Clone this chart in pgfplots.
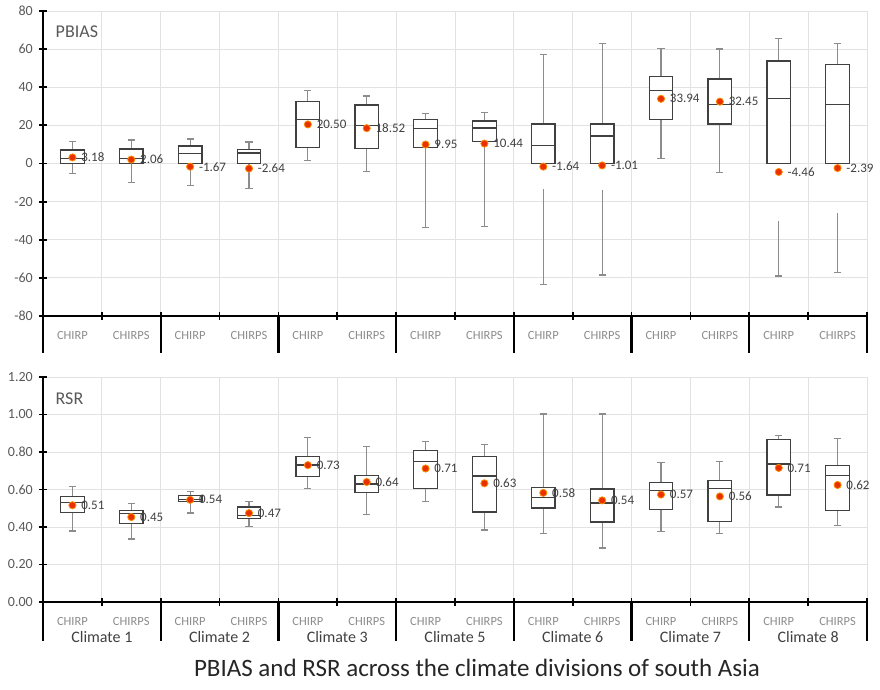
\documentclass[border=0pt]{standalone}
\usepackage{fontspec}
\setmainfont{Carlito}
\usepackage{pgfplots}
\usepackage{pgfplotstable}
\pgfplotsset{compat=1.18}

\definecolor{boxc}{HTML}{404040}
\definecolor{whc}{HTML}{8C8C8C}
\definecolor{tickc}{HTML}{595959}
\definecolor{catc}{HTML}{8C8C8C}
\definecolor{gridc}{HTML}{E2E2E2}
\definecolor{meanf}{HTML}{E83000}
\definecolor{meand}{HTML}{FF8C00}

% one box: position, lower whisker, lower quartile, median, upper quartile, upper whisker
\newcommand{\boxat}[6]{%
  \pgfmathsetmacro\bl{#1-0.2}\pgfmathsetmacro\br{#1+0.2}%
  \pgfmathsetmacro\cl{#1-0.06}\pgfmathsetmacro\cr{#1+0.06}%
  \addplot[draw=whc, line width=1.2pt] coordinates {(#1,#2) (#1,#3)};
  \addplot[draw=whc, line width=1.2pt] coordinates {(#1,#5) (#1,#6)};
  \addplot[draw=whc, line width=1.2pt] coordinates {(\cl,#2) (\cr,#2)};
  \addplot[draw=whc, line width=1.2pt] coordinates {(\cl,#6) (\cr,#6)};
  \addplot[draw=boxc, fill=white, line width=1.3pt]
    coordinates {(\bl,#3) (\br,#3) (\br,#5) (\bl,#5)} -- cycle;
  \addplot[draw=boxc, line width=1.3pt] coordinates {(\bl,#4) (\br,#4)};
}
% detached whisker segment: position, top, bottom (cap at bottom)
\newcommand{\lowseg}[3]{%
  \pgfmathsetmacro\cl{#1-0.06}\pgfmathsetmacro\cr{#1+0.06}%
  \addplot[draw=whc, line width=1.2pt] coordinates {(#1,#2) (#1,#3)};
  \addplot[draw=whc, line width=1.2pt] coordinates {(\cl,#3) (\cr,#3)};
}

% PBIAS means
\pgfplotstableread{
x y lab
0 3.18 3.18
1 2.06 2.06
2 -1.67 -1.67
3 -2.64 -2.64
4 20.50 20.50
5 18.52 18.52
6 9.95 9.95
7 10.44 10.44
8 -1.64 -1.64
9 -1.01 -1.01
10 33.94 33.94
11 32.45 32.45
12 -4.46 -4.46
13 -2.39 -2.39
}\pbmean

% RSR means
\pgfplotstableread{
x y lab
0 0.516 0.51
1 0.453 0.45
2 0.545 0.54
3 0.474 0.47
4 0.730 0.73
5 0.640 0.64
6 0.712 0.71
7 0.633 0.63
8 0.582 0.58
9 0.542 0.54
10 0.573 0.57
11 0.563 0.56
12 0.715 0.71
13 0.624 0.62
}\rsrmean

\pgfplotsset{
  clim/.style={
    scale only axis, width=824pt,
    xmin=-0.5, xmax=13.5,
    xtick={0,...,13},
    xticklabels={CHIRP,CHIRPS,CHIRP,CHIRPS,CHIRP,CHIRPS,CHIRP,CHIRPS,CHIRP,CHIRPS,CHIRP,CHIRPS,CHIRP,CHIRPS},
    minor xtick={-0.5,0.5,...,13.5},
    xminorgrids, ymajorgrids,
    grid style={draw=gridc, line width=0.8pt},
    minor grid style={draw=gridc, line width=0.8pt},
    axis x line*=bottom, axis y line*=left,
    axis line style={-, line width=2.2pt, black},
    tick align=center,
    major tick length=8pt, minor tick length=8pt,
    major x tick style={draw=none},
    tick style={line width=1.8pt, black},
    xticklabel style={font=\fontsize{12.5}{14}\selectfont, text=catc, anchor=base, yshift=-19.5pt, inner sep=0pt},
    yticklabel style={font=\fontsize{14}{16}\selectfont, text=tickc, anchor=east, inner sep=0pt, xshift=-6pt},
    /pgf/number format/assume math mode=true,
    clip=false,
  },
  meanpts/.style={only marks, mark=*, mark size=3.6pt,
    mark options={fill=meanf, draw=meand, line width=0.8pt},
    nodes near coords, point meta=explicit symbolic,
    every node near coord/.append style={anchor=west, xshift=8.5pt, inner sep=0pt,
      font=\fontsize{13}{14}\selectfont, text=boxc}},
}

\begin{document}
\begin{tikzpicture}
\begin{axis}[clim, name=top, at={(0,0)}, anchor=south west, height=305pt,
  ymin=-80, ymax=80, ytick={-80,-60,...,80}]
\boxat{0}{-5.1}{0}{2.7}{7.1}{11.4}
\boxat{1}{-9.8}{0}{2.7}{7.6}{12.3}
\boxat{2}{-11.7}{0}{5.2}{9.2}{12.9}
\boxat{3}{-13}{0}{5.5}{7.5}{11.3}
\boxat{4}{1.4}{8.5}{23}{32.4}{38.3}
\boxat{5}{-4}{7.8}{20}{30.7}{35.4}
\boxat{6}{-33.6}{8.5}{18.3}{23}{26.1}
\boxat{7}{-33.1}{11.5}{18.6}{22.3}{26.8}
\boxat{8}{0}{0}{9.4}{20.7}{57.1}
\boxat{9}{0}{0}{14.5}{20.7}{63}
\boxat{10}{2.8}{23}{38.2}{45.5}{60.5}
\boxat{11}{-4.7}{20.7}{30.8}{44.3}{60.1}
\boxat{12}{0}{0}{34.1}{53.7}{65.7}
\boxat{13}{0}{0}{30.8}{52.1}{63}
\lowseg{8}{-13.4}{-63.6}
\lowseg{9}{-13.9}{-58.5}
\lowseg{12}{-30.1}{-59}
\lowseg{13}{-26.1}{-57.3}
\addplot[meanpts] table[x=x, y=y, meta=lab] {\pbmean};
\node[anchor=west, font=\fontsize{18}{20}\selectfont, text=tickc, inner sep=0pt]
  at (axis cs:-0.5,69) [xshift=12.5pt] {PBIAS};
\end{axis}

\begin{axis}[clim, name=bot, at={(0,-61pt)}, anchor=north west, height=225pt,
  ymin=0, ymax=1.2, ytick={0,0.2,...,1.2},
  yticklabel style={/pgf/number format/.cd, fixed, fixed zerofill, precision=2}]
\boxat{0}{0.379}{0.478}{0.532}{0.564}{0.617}
\boxat{1}{0.336}{0.418}{0.471}{0.489}{0.524}
\boxat{2}{0.475}{0.535}{0.546}{0.567}{0.590}
\boxat{3}{0.404}{0.444}{0.462}{0.507}{0.537}
\boxat{4}{0.606}{0.670}{0.731}{0.777}{0.876}
\boxat{5}{0.468}{0.585}{0.629}{0.676}{0.828}
\boxat{6}{0.535}{0.604}{0.750}{0.807}{0.855}
\boxat{7}{0.384}{0.480}{0.672}{0.775}{0.841}
\boxat{8}{0.364}{0.501}{0.558}{0.612}{1.003}
\boxat{9}{0.288}{0.427}{0.528}{0.603}{1.003}
\boxat{10}{0.375}{0.492}{0.596}{0.636}{0.745}
\boxat{11}{0.364}{0.430}{0.606}{0.649}{0.750}
\boxat{12}{0.507}{0.571}{0.736}{0.866}{0.889}
\boxat{13}{0.407}{0.487}{0.674}{0.727}{0.871}
\addplot[meanpts] table[x=x, y=y, meta=lab] {\rsrmean};
\node[anchor=west, font=\fontsize{18}{20}\selectfont, text=tickc, inner sep=0pt]
  at (axis cs:-0.5,1.083) [xshift=12.5pt] {RSR};
\end{axis}

% climate separators below both axes
\foreach \k in {0,...,7} {
  \draw[line width=2.2pt] (\k*117.714pt,0) -- ++(0,-37pt);
  \draw[line width=2.2pt] (\k*117.714pt,-286pt) -- ++(0,-39pt);
}
\foreach \n [count=\i from 0] in {1,2,3,5,6,7,8}
  \node[font=\fontsize{16}{18}\selectfont, text=boxc] at ({(2*\i+1)*58.857pt},-321pt) {Climate \n};

\node[font=\fontsize{25}{28}\selectfont, text=black!85] at (434pt,-352pt)
  {PBIAS and RSR across the climate divisions of south Asia};

\path (-43pt,316pt) rectangle (837pt,-374pt);
\end{tikzpicture}
\end{document}
